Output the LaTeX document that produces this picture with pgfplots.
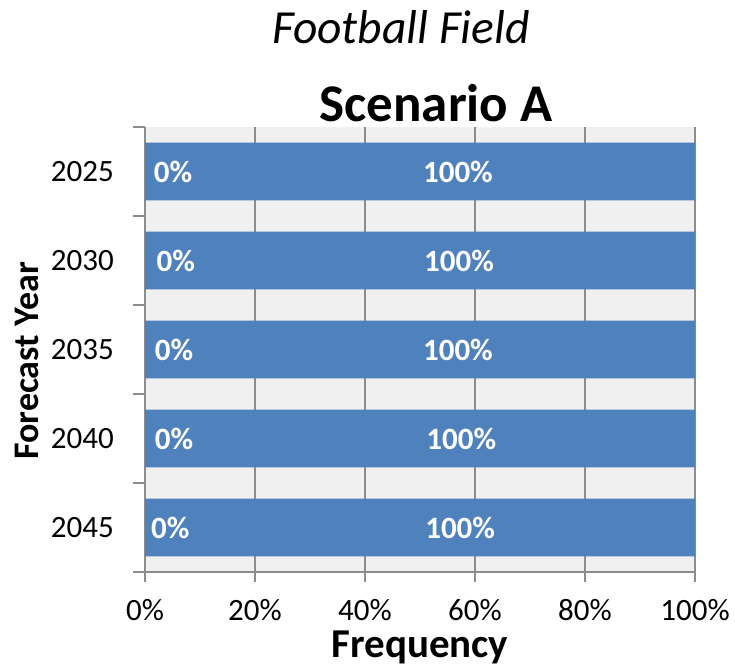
\documentclass[border=0pt]{standalone}
\usepackage{fontspec}
\setmainfont{Carlito}
\usepackage{pgfplots}
\pgfplotsset{compat=1.18}
\definecolor{barblue}{HTML}{4F81BD}
\definecolor{gridgray}{HTML}{8C8C8C}
\definecolor{plotbg}{HTML}{F0F0F0}

\begin{document}
\begin{tikzpicture}[x=1pt,y=1pt,
  lbl/.style={text=white, font=\bfseries\fontsize{31}{36}\selectfont}]
\begin{axis}[
  at={(145pt,96pt)}, anchor=south west,
  scale only axis,
  width=550pt, height=445pt,
  xbar stacked,
  bar width=0.65,
  xmin=0, xmax=1,
  ymin=0.5, ymax=5.5,
  axis x line*=bottom, axis y line*=left,
  axis line style={gridgray, line width=2.5pt},
  axis background/.style={fill=plotbg},
  xtick={0,0.2,0.4,0.6,0.8,1},
  xticklabels={0\%,20\%,40\%,60\%,80\%,100\%},
  ytick={1,2,3,4,5},
  yticklabels={2045,2040,2035,2030,2025},
  minor ytick={0.5,1.5,2.5,3.5,4.5,5.5},
  tick align=outside,
  major tick length=10pt,
  minor tick length=12pt,
  tick style={gridgray, line width=2.5pt},
  major y tick style={draw=none},
  minor y tick style={gridgray, line width=2.5pt},
  xmajorgrids,
  major x grid style={gridgray, line width=2.5pt},
  xticklabel style={font=\fontsize{31}{36}\selectfont, anchor=base, yshift=-39pt},
  yticklabel style={font=\fontsize{31}{36}\selectfont, anchor=east, inner sep=0pt, xshift=-21pt},
  clip=false,
]
% share at the left end (0%) and the rest of the bar (100%)
\addplot[fill=none, draw=none] coordinates {(0,1) (0,2) (0,3) (0,4) (0,5)};
\addplot[fill=barblue, draw=none] coordinates {(1,1) (1,2) (1,3) (1,4) (1,5)};

\coordinate (z1) at (axis cs:0.051,5);
\coordinate (z2) at (axis cs:0.056,4);
\coordinate (z3) at (axis cs:0.053,3);
\coordinate (z4) at (axis cs:0.053,2);
\coordinate (z5) at (axis cs:0.046,1);
\coordinate (h1) at (axis cs:0.569,5);
\coordinate (h2) at (axis cs:0.571,4);
\coordinate (h3) at (axis cs:0.569,3);
\coordinate (h4) at (axis cs:0.575,2);
\coordinate (h5) at (axis cs:0.573,1);
\end{axis}

\foreach \i in {1,...,5}{
  \node[lbl] at (z\i) {0\%};
  \node[lbl] at (h\i) {100\%};
}

\node[font=\itshape\fontsize{47.5}{52}\selectfont, anchor=base] at (401,624) {Football Field};
\node[font=\bfseries\fontsize{53}{60}\selectfont, anchor=base] at (436,546) {Scenario A};
\node[font=\bfseries\fontsize{41}{48}\selectfont, anchor=base] at (420,10) {Frequency};
\node[font=\bfseries\fontsize{36}{40}\selectfont, anchor=base, rotate=90] at (38,307) {Forecast Year};

\pgfresetboundingbox
\path (0,0) rectangle (735,668);
\end{tikzpicture}
\end{document}
